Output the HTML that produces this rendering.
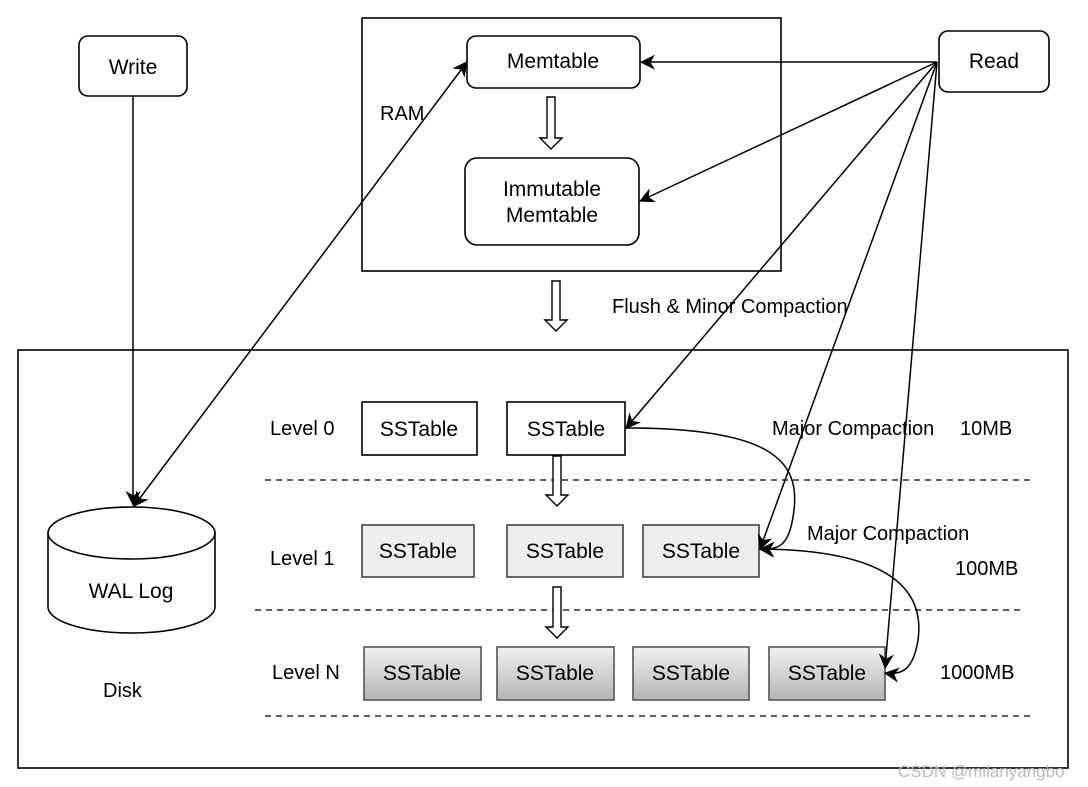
<!DOCTYPE html>
<html><head><meta charset="utf-8"><style>
html,body{margin:0;padding:0;background:#fff;}
svg{display:block;font-family:"Liberation Sans",Arial,sans-serif;}
</style></head><body>
<svg width="1088" height="787" viewBox="0 0 1088 787" xmlns="http://www.w3.org/2000/svg">
<defs>
<marker id="ah" viewBox="0 0 10 10" refX="9" refY="5" markerWidth="8" markerHeight="8" orient="auto-start-reverse" markerUnits="userSpaceOnUse" style="overflow:visible">
<path d="M0,0 L10,5 L0,10 L3,5 Z" fill="#000" transform="scale(1.9) translate(-4.5,-2.5)"/>
</marker>
<linearGradient id="g" x1="0" y1="0" x2="0" y2="1"><stop offset="0" stop-color="#f2f2f2"/><stop offset="1" stop-color="#b5b5b5"/></linearGradient>
</defs>
<g stroke="#000" stroke-width="1.6" fill="#fff">
<rect x="362" y="18" width="419" height="253" fill="none"/>
<rect x="18" y="350" width="1050" height="418" fill="none"/>
<rect x="79" y="36" width="108" height="60" rx="9"/>
<rect x="467" y="36" width="173" height="52" rx="9"/>
<rect x="465" y="158" width="174" height="87" rx="12"/>
<rect x="939" y="31" width="110" height="61" rx="9"/>
<rect x="362" y="402" width="115" height="53"/>
<rect x="507" y="402" width="118" height="53"/>
<rect x="362" y="525" width="112" height="52" fill="#eee" stroke="#444"/>
<rect x="507" y="525" width="116" height="52" fill="#eee" stroke="#444"/>
<rect x="643" y="525" width="116" height="52" fill="#eee" stroke="#444"/>
<rect x="364" y="647" width="117" height="53" fill="url(#g)" stroke="#555"/>
<rect x="497" y="647" width="117" height="53" fill="url(#g)" stroke="#555"/>
<rect x="633" y="647" width="116" height="53" fill="url(#g)" stroke="#555"/>
<rect x="769" y="647" width="116" height="53" fill="url(#g)" stroke="#555"/>
<path d="M48,533 L48,607 A83.5,26 0 0 0 215,607 L215,533" />
<ellipse cx="131.5" cy="533" rx="83.5" ry="26"/>
</g>
<g stroke="#000" stroke-width="1.3" stroke-dasharray="6,5">
<line x1="265" y1="480" x2="1035" y2="480"/>
<line x1="255" y1="610" x2="1025" y2="610"/>
<line x1="265" y1="716" x2="1035" y2="716"/>
</g>
<g stroke="#000" stroke-width="1.4" fill="#fff">
<path d="M547,97 L555,97 L555,138 L562,138 L551,149 L540,138 L547,138 Z"/>
<path d="M552,281 L560,281 L560,320 L567,320 L556,331 L545,320 L552,320 Z"/>
<path d="M553,456 L561,456 L561,495 L568,495 L557,506 L546,495 L553,495 Z"/>
<path d="M553,587 L561,587 L561,627 L568,627 L557,638 L546,627 L553,627 Z"/>
</g>
<g stroke="#000" stroke-width="1.5" fill="none">
<line x1="133" y1="96" x2="133" y2="505" marker-end="url(#ah)"/>
<line x1="134" y1="506" x2="467" y2="62" marker-start="url(#ah)" marker-end="url(#ah)"/>
<line x1="937" y1="62" x2="641" y2="62" marker-end="url(#ah)"/>
<line x1="937" y1="62" x2="640" y2="201" marker-end="url(#ah)"/>
<line x1="937" y1="62" x2="626" y2="428" marker-end="url(#ah)"/>
<line x1="937" y1="62" x2="760" y2="549" marker-end="url(#ah)"/>
<line x1="937" y1="62" x2="885" y2="668" marker-end="url(#ah)"/>
<path d="M626,428 C770,428 800,460 794,510 C790,545 780,550 760,549" marker-end="url(#ah)"/>
<path d="M760,549 C890,550 925,590 918,640 C913,672 900,675 885,673" marker-start="url(#ah)" marker-end="url(#ah)"/>
</g>
<g font-size="21" fill="#000" text-anchor="middle">
<text x="133" y="74">Write</text>
<text x="553" y="68">Memtable</text>
<text x="552" y="196">Immutable</text>
<text x="552" y="222">Memtable</text>
<text x="994" y="68">Read</text>
<text x="131" y="598">WAL Log</text>
<text x="419" y="436">SSTable</text>
<text x="566" y="436">SSTable</text>
<text x="418" y="558">SSTable</text>
<text x="565" y="558">SSTable</text>
<text x="701" y="558">SSTable</text>
<text x="422" y="680">SSTable</text>
<text x="555" y="680">SSTable</text>
<text x="691" y="680">SSTable</text>
<text x="827" y="680">SSTable</text>
</g>
<g font-size="20" fill="#000">
<text x="380" y="120">RAM</text>
<text x="612" y="313">Flush &amp; Minor Compaction</text>
<text x="270" y="435">Level 0</text>
<text x="270" y="565">Level 1</text>
<text x="272" y="679">Level N</text>
<text x="103" y="697">Disk</text>
<text x="772" y="435">Major Compaction</text>
<text x="960" y="435">10MB</text>
<text x="807" y="540">Major Compaction</text>
<text x="955" y="575">100MB</text>
<text x="940" y="679">1000MB</text>
</g>
<text x="898" y="777" font-size="17" fill="#bbb">CSDN @milanyangbo</text>
</svg>
</body></html>
